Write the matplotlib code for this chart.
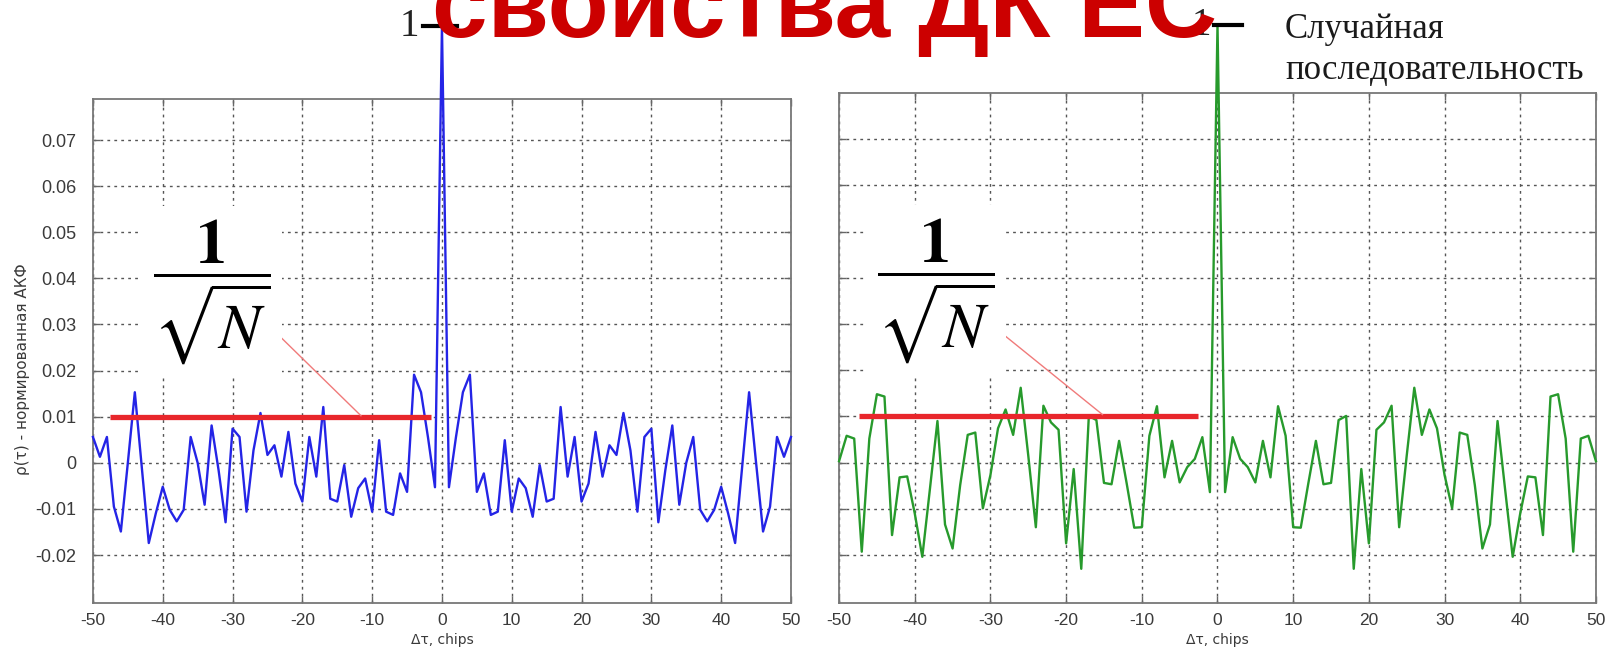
import numpy as np
import matplotlib
matplotlib.use("Agg")
import matplotlib.pyplot as plt

plt.rcParams["axes.unicode_minus"] = False

# lags in chips
lags = np.arange(-50, 51)

# normalised ACF of the PRN code (blue)
acf_code = [
    0.0056, 0.0013, 0.0056, -0.0095, -0.0149, 0.0000, 0.0153, -0.0010, -0.0174, -0.0110,
    -0.0052, -0.0102, -0.0127, -0.0102, 0.0056, 0.0000, -0.0091, 0.0081, -0.0016, -0.0129,
    0.0074, 0.0056, -0.0106, 0.0027, 0.0108, 0.0017, 0.0038, -0.0030, 0.0067, -0.0045,
    -0.0084, 0.0056, -0.0030, 0.0121, -0.0078, -0.0084, -0.0005, -0.0117, -0.0055, -0.0034,
    -0.0106, 0.0049, -0.0106, -0.0113, -0.0023, -0.0063, 0.0191, 0.0153, 0.0055, -0.0053,
    1.0,
    -0.0053, 0.0055, 0.0153, 0.0191, -0.0063, -0.0023, -0.0113, -0.0106, 0.0049, -0.0106,
    -0.0034, -0.0055, -0.0117, -0.0005, -0.0084, -0.0078, 0.0121, -0.0030, 0.0056, -0.0084,
    -0.0045, 0.0067, -0.0030, 0.0038, 0.0017, 0.0108, 0.0027, -0.0106, 0.0056, 0.0074,
    -0.0129, -0.0016, 0.0081, -0.0091, 0.0000, 0.0056, -0.0102, -0.0127, -0.0102, -0.0052,
    -0.0110, -0.0174, -0.0010, 0.0153, 0.0000, -0.0149, -0.0095, 0.0056, 0.0013, 0.0056,
]

# normalised ACF of a random sequence (green)
acf_rand = [
    0.0003, 0.0058, 0.0052, -0.0193, 0.0052, 0.0148, 0.0143, -0.0157, -0.0032, -0.0030,
    -0.0110, -0.0204, -0.0058, 0.0090, -0.0134, -0.0186, -0.0049, 0.0060, 0.0065, -0.0099,
    -0.0027, 0.0074, 0.0115, 0.0060, 0.0162, 0.0015, -0.0140, 0.0123, 0.0087, 0.0071,
    -0.0175, -0.0014, -0.0230, 0.0101, 0.0092, -0.0044, -0.0047, 0.0047, -0.0045, -0.0141,
    -0.0140, 0.0058, 0.0122, -0.0032, 0.0047, -0.0043, -0.0010, 0.0008, 0.0055, -0.0064,
    1.0,
    -0.0064, 0.0055, 0.0008, -0.0010, -0.0043, 0.0047, -0.0032, 0.0122, 0.0058, -0.0140,
    -0.0141, -0.0045, 0.0047, -0.0047, -0.0044, 0.0092, 0.0101, -0.0230, -0.0014, -0.0175,
    0.0071, 0.0087, 0.0123, -0.0140, 0.0015, 0.0162, 0.0060, 0.0115, 0.0074, -0.0027,
    -0.0099, 0.0065, 0.0060, -0.0049, -0.0186, -0.0134, 0.0090, -0.0058, -0.0204, -0.0110,
    -0.0030, -0.0032, -0.0157, 0.0143, 0.0148, 0.0052, -0.0193, 0.0052, 0.0058, 0.0003,
]

xticks = list(range(-50, 51, 10))
yticks = [-0.02, -0.01, 0, 0.01, 0.02, 0.03, 0.04, 0.05, 0.06, 0.07]
ytick_labels = ["-0.02", "-0.01", "0", "0.01", "0.02", "0.03", "0.04", "0.05", "0.06", "0.07"]
level = 0.01  # 1/sqrt(N)

# y axis is linear up to BRK, the peak above it is squeezed
BRK = 0.0805
SQZ = 0.01544


def fwd(y):
    y = np.asarray(y, dtype=float)
    return np.where(y <= BRK, y, BRK + (y - BRK) * SQZ)


def inv(y):
    y = np.asarray(y, dtype=float)
    return np.where(y <= BRK, y, BRK + (y - BRK) / SQZ)


fig = plt.figure(figsize=(16.08, 6.52), dpi=100)
ax1 = fig.add_axes([0.0578, 0.0752, 0.4341, 0.7730])
ax2 = fig.add_axes([0.5218, 0.0752, 0.4707, 0.7820])


def setup(ax, top, with_labels):
    ax.set_yscale("function", functions=(fwd, inv))
    ax.set_xlim(-50, 50)
    ax.set_ylim(-0.0304, top)
    ax.set_xticks(xticks)
    ax.set_xticklabels([str(t) for t in xticks])
    ax.set_yticks(yticks)
    if with_labels:
        ax.set_yticklabels(ytick_labels)
    else:
        ax.set_yticklabels([])
    ax.minorticks_off()
    ax.tick_params(direction="in", top=True, right=True, length=5, width=1,
                   color="#666666", labelsize=12.5, labelcolor="#3a3a3a", pad=7)
    ax.tick_params(axis="y", pad=12, labelsize=13)
    for lbl in ax.get_xticklabels() + ax.get_yticklabels():
        lbl.set_family("Liberation Sans")
    for sp in ax.spines.values():
        sp.set_color("#777777")
        sp.set_linewidth(1.3)
    ax.grid(True, color="#555555", linestyle=(0, (2, 3)), linewidth=1)
    ax.set_xlabel("Δτ, chips", fontsize=10, color="#3a3a3a", labelpad=4,
                  family="DejaVu Sans")


setup(ax1, 0.0789, True)
setup(ax2, 0.0800, False)
fig.text(22.5 / 1608, 1 - 369 / 652, "ρ(τ) - нормированная АКФ", fontsize=11,
         color="#3a3a3a", rotation=90, ha="center", va="center",
         family="DejaVu Sans")

panels = [
    # axis, series, colour, red level span, pointer ends, label x, peak mark span, "1" x
    (ax1, acf_code, "#2424e6", (-47.6, -1.5), ((-24.7, 0.0296), (-11.6, 0.0102)),
     -33.0, (-2.7, 2.2), -3.3),
    (ax2, acf_rand, "#279a2c", (-47.3, -2.6), ((-29.7, 0.0296), (-15.2, 0.0104)),
     -37.2, (-0.4, 3.3), -0.9),
]
for ax, vals, col, span, ptr, cx, mark, one_x in panels:
    ax.plot(lags, vals, color=col, lw=1.7, clip_on=False, zorder=4)
    ax.plot(span, [level, level], color="#e8262b", lw=3.8, zorder=5,
            solid_capstyle="butt")
    ax.plot([ptr[0][0], ptr[1][0]], [ptr[0][1], ptr[1][1]], color="#f07a7a",
            lw=1, zorder=5)
    ax.text(cx, 0.0372, r"$\dfrac{\mathbf{1}}{\sqrt{N}}$", fontsize=45,
            math_fontfamily="stix", ha="center", va="center", zorder=6,
            bbox=dict(facecolor="white", edgecolor="none", pad=8))
    # marker for the value 1 at the peak
    ax.plot(mark, [1, 1], color="black", lw=3, clip_on=False, zorder=6)
    ax.text(one_x, 1, "1", fontsize=28, family="Liberation Serif", ha="right",
            va="center", color="#222222", clip_on=False)

fig.text(0.513, 1 - 37 / 652, "свойства ДК ЕС", fontsize=72, fontweight="bold",
         color="#cc0000", family="Liberation Sans", ha="center", va="baseline",
         zorder=10)
fig.text(1285 / 1608, 1 - 29 / 652, "Случайная", fontsize=25,
         family="Liberation Serif", color="#1a1a1a", ha="left", va="center")
fig.text(1285 / 1608, 1 - 70 / 652, "последовательность", fontsize=25,
         family="Liberation Serif", color="#1a1a1a", ha="left", va="center")

fig.savefig("out.png", dpi=100)
